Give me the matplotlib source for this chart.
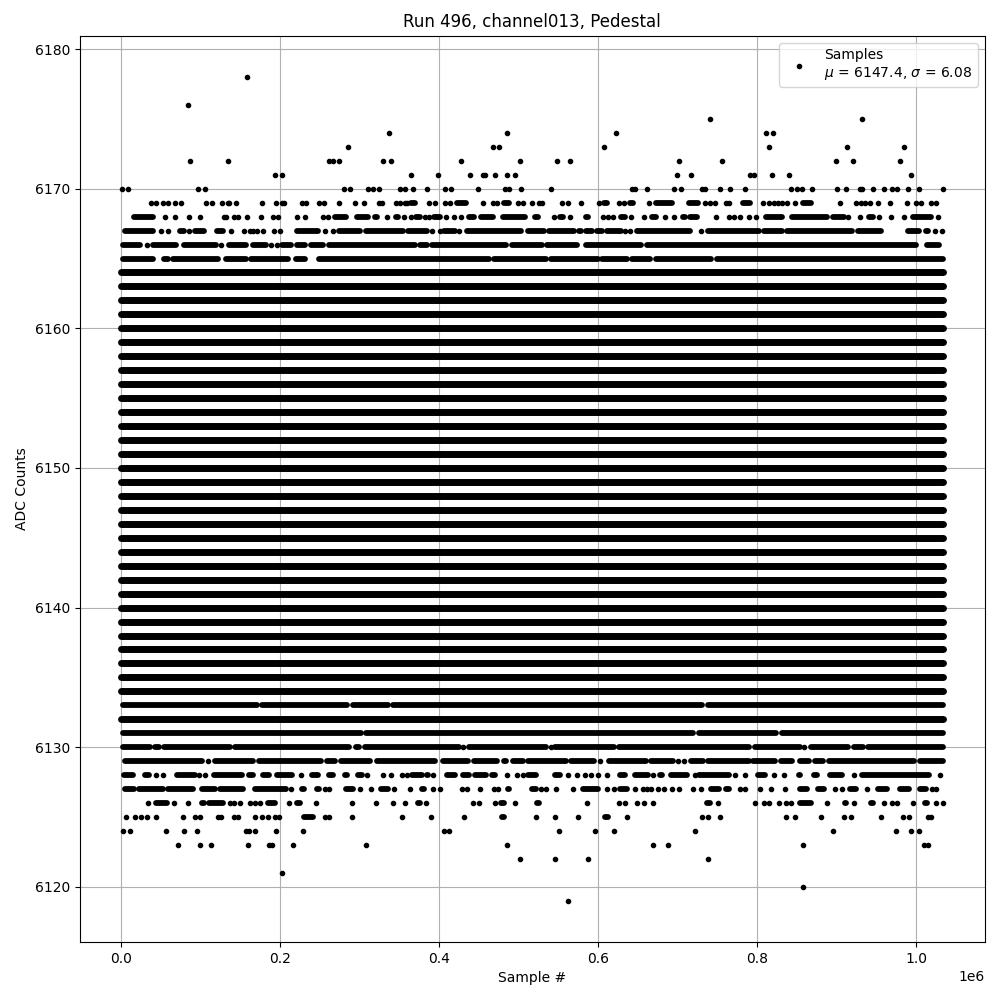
# pedestal samples for one channel, values read per ADC level
# x values are in thousands of samples, a tuple is a run of overlapping dots
import matplotlib
matplotlib.use('Agg')
import matplotlib.pyplot as plt

title = 'Run 496, channel013, Pedestal'
x_label = 'Sample #'
y_label = 'ADC Counts'
legend_label = 'Samples\n$\\mu$ = 6147.4, $\\sigma$ = 6.08'

row_6178 = [158]
row_6176 = [84]
row_6175 = [741, 932]
row_6174 = [336.6, 486, 622.5, 811, 820.5]
row_6173 = [286, 467.5, 476, 607.5, 815, 913, 985]
row_6172 = [86.5, 134, 262, 266, 274, 329, 339, 427.5, 502, 548.75, 565, 702.5, 756, 899, 921, 980]
row_6171 = [193, 203, 365, 399, 439, 455, 458, 471, 486, 495, 699, 717, 791, 796, 819, 840, 994]
row_6170 = [1, 8.6, 96.5, 105, 280, 287.5, 310, 316.5, 324, 351, 357, 367, 385, 407.5, 415, 449,
            482.5, 487.5, 502.5, 541, 642.5, 646.7, 661, 695.5, 704, 731, 735, 753.5, 766, 785,
            843, 850, 856.6, 869, 900.6, 912, 930, 932, 946, 960, 970, 976, 990, 1004, 1034]
row_6169 = [37.5, 44, 52.5, 59, 67.6, 75.6, 107, 114.5, 127, 134, 136, 144, 177, 195, 202.5, 205.5,
            228, 233, 248.5, 255.7, 274, 294, 306, 324, 328, 346, 351, 357, 360, (362, 372), 387,
            394.6, 408, 414, (420, 436), 455, 467.5, 473, (479, 490), 499, 505, 516.7, 526, 530,
            555, 562.5, 579, 601, (605, 614), 626, 633, (638, 646), 663.75, (671, 696), (712, 728),
            735, 741, 747.6, 761, 765, (780, 794), 807, 815, 822, 827, 831.5, 838, 848, (855, 870),
            904, 925, 931, 936, 942.6, 952, 967, 989, 1000, 1006, 1019, 1025.6]
row_6168 = [(14, 43), 55, 67.6, 85, 99, 130, 132, 141.7, 146.8, 158, 176.5, 190.7, 197, 221, 231,
            253.5, 260, (267, 285), (294, 313), (317, 325), 335, (343, 351), 356, 365, (368, 379),
            381.7, 387.5, (391, 404), 409, 419, 428, (435, 446), (450, 470), (478, 510), (518, 527),
            544.6, (550, 558), 564.6, (582, 590), 606, 612.5, 618.75, (627, 637), 641.7, 658,
            (666, 675), 683.75, 696, (704, 712), (713, 727), 748, 765, 771, 779, 789.5, 799,
            (809, 834), (841, 891), (893, 912), 915, 929, (939, 948), 953, 969, 984.5, (994, 1021), 1028]
row_6167 = [(3, 43), 50, 59, (72, 81), 86, (91, 107), (118, 131), 138, 154, 162, 165.6, 171, 178, 192,
            199.6, (219, 250), 257, 266, (271, 303), (305, 357), (359, 387), 391, 401, (404, 422), 425,
            (433, 506), (510, 535), (536, 572), (573, 581), (583, 595), (596, 607), (609, 632), 634,
            640, (647, 718), 729.5, (736, 805), (806, 834), (835, 922), (925, 958), (988, 1006),
            (1010, 1018), 1023.5, 1032.7]
row_6166 = [(0, 26), 32.5, (38, 72), (77, 122), 125.4, (133, 160), (163, 185), 188.6, 196, (200, 216),
            (219, 234), (237, 257), (259, 372), (374, 387), (388, 487), (489, 532), (533, 576), (583, 656),
            (659, 1002), (1011, 1032)]
row_6165 = [(0, 42), (51, 62), (63, 124), (130, 160), (161, 212), (217, 234), (246, 465), (467, 537),
            (538, 602), (603, 639), (640, 668), (670, 745), (747, 1037)]

row_6133 = [(0, 174), (175, 287), (289, 338), (340, 733), (736, 1036)]
row_6131 = [(0, 304), (306, 722), (725, 827), (829, 1037)]
row_6130 = [(0, 39), (40, 50), (52, 139), (141, 289), (293, 302), (304, 427), 430, (435, 537), 541,
            (544, 622), (624, 792), (795, 857), 859, (866, 917), (920, 936), (937, 1036)]
row_6129 = [(2, 104), 109, (116, 168), (171, 254), (257, 271), (274, 315), (320, 398), (402, 439),
            (442, 476), (479, 487), (490, 508), (509, 562), (563, 598), 602.5, (611, 663), (664, 697),
            701, 708, (714, 734), (736, 792), (793, 825), (828, 847), (851, 868), (871, 886), (888, 1000),
            (1002, 1036)]
row_6128 = [(1, 18), (27, 37), 44, 52.5, (68, 95), 98.5, 105, (114, 154), (158, 168), (176, 189), (194, 218),
            226, (238, 250), (259, 269), (279, 287), (296, 305), 309, 330, 340, 354, 360, (364, 381),
            (382, 389), 392.5, (408, 422), (427, 440), (443, 461), (464, 473), 485, 497.5, 505,
            (510, 525), (529, 535), (544, 555), 562, 574, 583, 591, 600, 611, (625, 637), (644, 666), 669,
            (675, 683), (689, 714), 721.7, (724, 767), 772.7, 785, (799, 813), 821, 834, (850, 857),
            (869, 878), (889, 910), 922, (929, 1019), 1030]
row_6127 = [(2, 19), (20, 55), (56, 93), (99, 120), (122, 156), (166, 210), 213.7, (225, 233), (244, 252),
            257, 262, (280, 294), 300, 315, (324, 338), 343.6, 364, (376, 384), 392.5, 401, 429, 435,
            451, 469, 474, (484, 491), (514, 525), 528, 534, 547.5, 569, (579, 602), 611, 620, (625, 639),
            646, 657, 661, 667, 676, 683, 692.5, 702.5, 719.5, 729.5, (740, 755), (759, 767), 779, 785, 804,
            817.6, 835, (851, 866), (874, 887), 898, 907, (914, 927), 938, (950, 966), (977, 994),
            (1003, 1015), 1020, 1025]
row_6126 = [33.7, (41, 60), 66, 84, (99, 107), (108, 131), 137, 142.6, 149, 162, 168, 175, (182, 196),
            211, (219, 227), 245.6, 291, 321, 341.5, 357.5, (371, 379), 383, 442.5, 450, 470, (476, 484),
            495, (521, 528), 586, 626, 634, 649, 658, 669, (734, 744), 751, 797.5, 809, 815, 827.7, 836.5,
            843, (851, 870), 888, (908, 915), 922, (941, 948), 960, 970, 976, 996, (1009, 1016), 1025, 1034]
row_6125 = [6, 17, 25, 32.5, 44, 77.7, 92.8, 99.5, 121.6, 126, 141.7, 147, 168, 177, 184.5, 193, 199,
            (228, 244), 256, 262, 290, 353, 390, 431, (477, 484), 522.5, 546, 575, (606, 615), 636, 731, 738,
            753.5, 836.5, 848, 880.5, 909.4, 918, 956, 983.6, 991, 1015, 1019]
row_6124 = [2.3, 10.7, 56, 79, 95, 157, 161, 169, 194.5, 228.5, 406, 412.5, 551, 596, 620, 722, 895.6,
            975, 994, 1004]
row_6123 = [71, 99, 113, 160, 186, 190, 216, 307.6, 485, 668.75, 687.5, 858, 1010, 1015]
row_6122 = [501.7, 546, 587.5, 738]
row_6121 = [202]
row_6120 = [858]
row_6119 = [562.5]

sparse_levels = [6178, 6176, 6175, 6174, 6173, 6172, 6171, 6170, 6169, 6168, 6167, 6166, 6165,
                 6133, 6131, 6130, 6129, 6128, 6127, 6126, 6125, 6124, 6123, 6122, 6121, 6120, 6119]
sparse_rows = [row_6178, row_6176, row_6175, row_6174, row_6173, row_6172, row_6171, row_6170,
               row_6169, row_6168, row_6167, row_6166, row_6165, row_6133, row_6131, row_6130,
               row_6129, row_6128, row_6127, row_6126, row_6125, row_6124, row_6123, row_6122,
               row_6121, row_6120, row_6119]

# every level in this list is filled over the whole run
full_levels = [6164, 6163, 6162, 6161, 6160, 6159, 6158, 6157, 6156, 6155, 6154, 6153, 6152, 6151,
               6150, 6149, 6148, 6147, 6146, 6145, 6144, 6143, 6142, 6141, 6140, 6139, 6138, 6137,
               6136, 6135, 6134, 6132]
full_start = 0
full_end = 1034

# runs were read edge to edge, round caps add half a dot on both ends
cap = 2.5

fig, ax = plt.subplots(figsize=(10, 10))

first = True
for level, row in zip(sparse_levels, sparse_rows):
    pts = [v * 1e3 for v in row if not isinstance(v, tuple)]
    if first:
        ax.plot(pts, [level] * len(pts), '.', c='k', label=legend_label)
        first = False
    else:
        ax.plot(pts, [level] * len(pts), '.', c='k')
    for v in row:
        if isinstance(v, tuple):
            x0 = min(v[0] + cap, v[1]) * 1e3
            x1 = max(v[1] - cap, v[0]) * 1e3
            ax.plot([x0, x1], [level, level], c='k', lw=4.2, solid_capstyle='round')

for level in full_levels:
    ax.plot([full_start * 1e3, full_end * 1e3], [level, level], c='k', lw=5, solid_capstyle='round')

ax.set_title(title)
ax.set_xlabel(x_label)
ax.set_ylabel(y_label)
ax.grid(True)
ax.legend(loc='upper right')

fig.subplots_adjust(left=0.08, right=0.9845, top=0.9642, bottom=0.058)
fig.savefig('out.png', dpi=100)
